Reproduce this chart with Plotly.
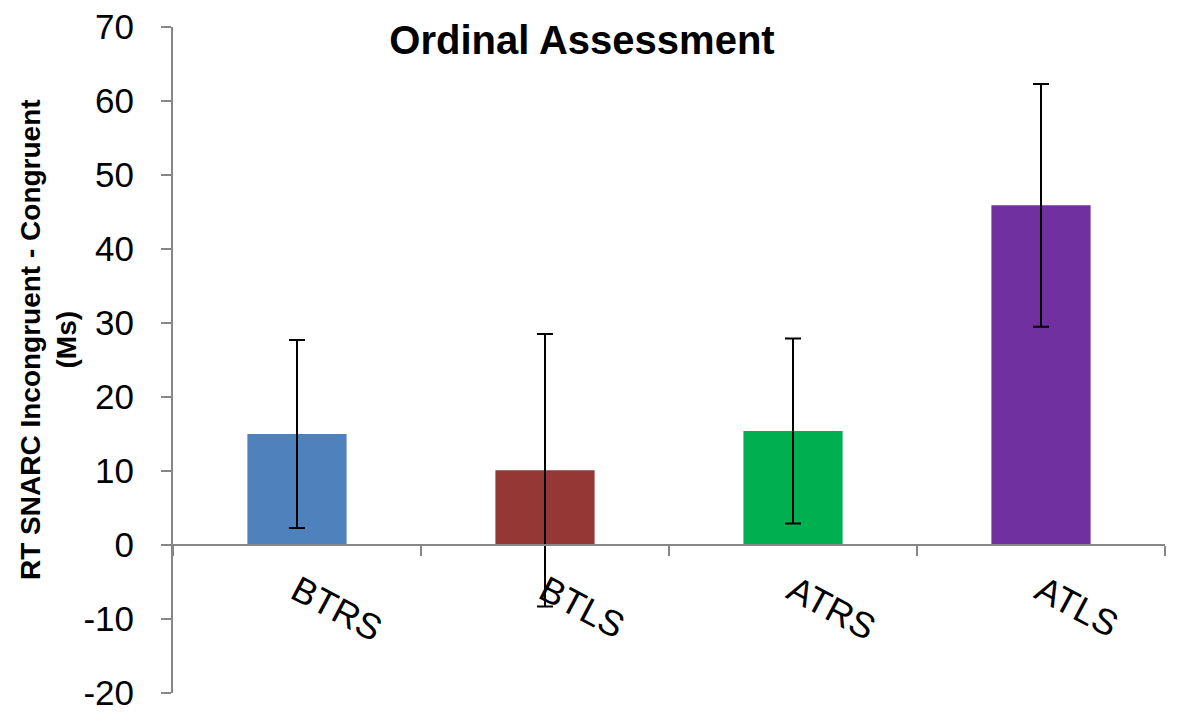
import plotly.graph_objects as go

# values
groups = ["BTRS", "BTLS", "ATRS", "ATLS"]
mean_diff = [15.0, 10.1, 15.4, 45.9]
err = [12.7, 18.4, 12.5, 16.4]
bar_colors = ["#4F81BD", "#953735", "#00B050", "#7030A0"]
y_ticks = list(range(-20, 71, 10))

axis_grey = "#868686"
W, H = 1173, 710   # page body keeps an 8px margin

fig = go.Figure()
fig.add_trace(go.Bar(x=groups, y=mean_diff,
                     marker=dict(color=bar_colors, line=dict(width=0)),
                     error_y=dict(type="data", array=err, visible=True,
                                  color="black", thickness=2, width=8),
                     showlegend=False))

fig.update_layout(
    width=W, height=H,
    margin=dict(l=165, r=16, t=19, b=25),
    paper_bgcolor="white", plot_bgcolor="white",
    font=dict(family="Liberation Sans, Arial", color="black"),
    bargap=0.6,
    title=dict(text="<b>Ordinal Assessment</b>", font=dict(size=40),
               x=(582-8)/W, xanchor="center", xref="container",
               y=1-(40-8)/H, yanchor="middle", yref="container",
               automargin=False),
)

# x axis sits on y=0 (2/9 of the plot height from the bottom)
fig.update_xaxes(type="category", anchor="free", position=2/9,
                 showline=True, linecolor=axis_grey, linewidth=2,
                 ticks="outside", tickson="boundaries", ticklen=10,
                 tickcolor=axis_grey, tickwidth=2,
                 tickangle=28, tickfont=dict(size=36),
                 ticklabelstandoff=10, showgrid=False, automargin=False)

fig.update_yaxes(range=[-20, 70], tickvals=y_ticks,
                 ticktext=[str(v) for v in y_ticks],
                 showline=True, linecolor=axis_grey, linewidth=2,
                 ticks="outside", ticklen=10, tickcolor=axis_grey, tickwidth=2,
                 tickfont=dict(size=35), ticklabelstandoff=20,
                 ticklabeloverflow="allow", automargin=False,
                 showgrid=False, zeroline=False)

fig.add_annotation(text="<b>RT SNARC Incongruent - Congruent<br>(Ms)</b>",
                   textangle=-90, xref="paper", yref="paper",
                   x=(48-173)/992, y=0.53,
                   xanchor="center", yanchor="middle",
                   showarrow=False, font=dict(size=28))

fig.write_html("out.html")
